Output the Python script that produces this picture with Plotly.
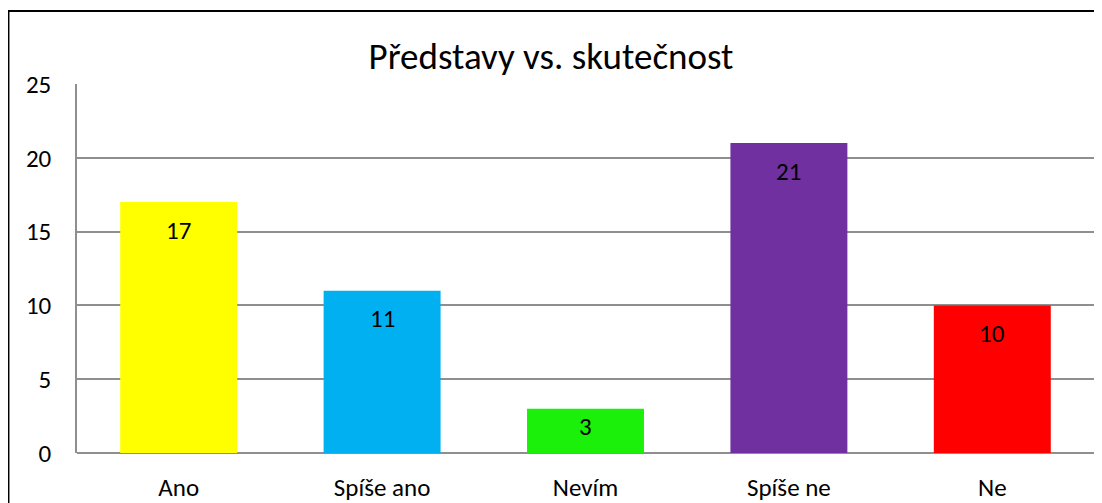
import plotly.graph_objects as go

categories = ["Ano", "Spíše ano", "Nevím", "Spíše ne", "Ne"]
values = [17, 11, 3, 21, 10]
colors = ["#FFFF00", "#00B0F0", "#1AF00A", "#7030A0", "#FF0000"]
title_text = "Představy vs. skutečnost"
y_ticks = [0, 5, 10, 15, 20, 25]

FONT = "Carlito, Calibri, Lato, sans-serif"

fig = go.Figure()
fig.add_trace(go.Bar(
    x=categories, y=values, marker=dict(color=colors, line=dict(width=0)),
    width=0.575, showlegend=False, hoverinfo="x+y",
))

PX_PER_UNIT = 369 / 25
for c, v in zip(categories, values):
    h = v * PX_PER_UNIT
    shift = -min(28, h / 2 - 4)
    fig.add_annotation(x=c, y=v, text=str(v), showarrow=False, yanchor="middle",
                       yshift=shift, font=dict(family=FONT, size=25, color="black"))

fig.update_layout(
    width=1094, height=495,
    margin=dict(l=69, r=8, t=76, b=50),
    paper_bgcolor="white", plot_bgcolor="white",
    font=dict(family=FONT, size=25, color="black"),
    title=dict(text=title_text, x=(1102 / 2 - 8) / 1094, xanchor="center",
               y=1 - 48 / 495, yanchor="middle",
               font=dict(family=FONT, size=37, color="black")),
    bargap=0.425,
    xaxis=dict(showgrid=False, showline=False, zeroline=False, ticks="", automargin=False,
               ticklabelstandoff=17, tickfont=dict(size=25)),
    yaxis=dict(range=[0, 25], tickvals=y_ticks, showgrid=True, gridcolor="#8f8f8f", gridwidth=1.5,
               showline=True, linecolor="#8f8f8f", linewidth=1.5, zeroline=True, automargin=False,
               zerolinecolor="#8f8f8f", zerolinewidth=1.5, ticks="", ticklabelstandoff=19,
               tickfont=dict(size=25)),
)

fig.add_shape(type="rect", xref="paper", yref="paper",
              x0=(9 - 77) / 1009, x1=1.1, y0=-0.3, y1=(453 - 11) / 369,
              line=dict(color="black", width=2), fillcolor="rgba(0,0,0,0)", layer="above")

fig.write_html("out.html")
